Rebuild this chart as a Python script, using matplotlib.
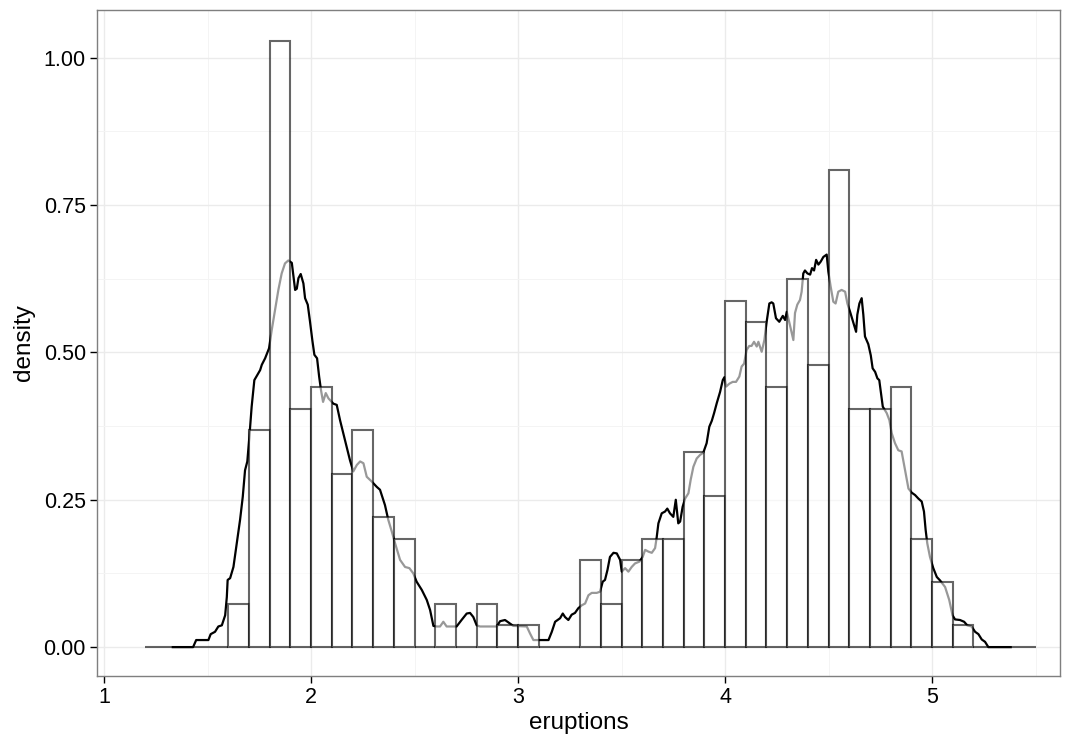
import numpy as np
import matplotlib
matplotlib.use("Agg")
import matplotlib.pyplot as plt
from matplotlib.ticker import FixedLocator

plt.rcParams['font.family'] = ['Liberation Sans', 'DejaVu Sans']

# histogram of eruptions, binwidth 0.1, bins from 1.2 to 5.5 (density scale)
bin_width = 0.1
bin_starts = np.round(np.arange(1.2, 5.45, bin_width), 1)
hist_density = [0, 0, 0, 0, 0.0735, 0.368, 1.029, 0.404, 0.441, 0.294,
                0.368, 0.221, 0.184, 0, 0.0735, 0, 0.0735, 0.0368, 0.0368, 0,
                0, 0.147, 0.0735, 0.147, 0.184, 0.184, 0.331, 0.257, 0.588, 0.551,
                0.441, 0.625, 0.478, 0.809, 0.404, 0.404, 0.441, 0.184, 0.110, 0.0368,
                0, 0, 0]

# kernel density (small bandwidth)
dens_x = [1.332, 1.430, 1.445, 1.504, 1.515, 1.536, 1.552, 1.569, 1.585, 1.593,
          1.597, 1.609, 1.625, 1.641, 1.657, 1.670, 1.681, 1.692, 1.702, 1.713,
          1.726, 1.741, 1.754, 1.762, 1.778, 1.797, 1.810, 1.826, 1.842, 1.858,
          1.874, 1.890, 1.907, 1.915, 1.923, 1.931, 1.939, 1.950, 1.963, 1.971,
          1.984, 1.995, 2.006, 2.016, 2.029, 2.039, 2.048, 2.058, 2.071, 2.084,
          2.108, 2.124, 2.140, 2.164, 2.188, 2.204, 2.221, 2.237, 2.253, 2.269,
          2.293, 2.317, 2.333, 2.357, 2.373, 2.390, 2.406, 2.430, 2.454, 2.475,
          2.494, 2.510, 2.535, 2.559, 2.575, 2.591, 2.607, 2.623, 2.639, 2.655,
          2.703, 2.727, 2.752, 2.768, 2.784, 2.800, 2.816, 2.897, 2.913, 2.937,
          2.961, 2.977, 3.042, 3.058, 3.074, 3.147, 3.163, 3.179, 3.203, 3.216,
          3.227, 3.243, 3.259, 3.275, 3.291, 3.308, 3.324, 3.340, 3.356, 3.380,
          3.396, 3.409, 3.420, 3.432, 3.444, 3.461, 3.477, 3.493, 3.501, 3.517,
          3.533, 3.549, 3.565, 3.586, 3.602, 3.614, 3.630, 3.646, 3.662, 3.670,
          3.678, 3.694, 3.710, 3.721, 3.734, 3.750, 3.762, 3.774, 3.783, 3.795,
          3.807, 3.823, 3.834, 3.847, 3.863, 3.879, 3.895, 3.911, 3.924, 3.936,
          3.947, 3.960, 3.976, 3.989, 3.997, 4.005, 4.021, 4.037, 4.053, 4.069,
          4.080, 4.092, 4.104, 4.117, 4.128, 4.140, 4.153, 4.161, 4.177, 4.190,
          4.201, 4.214, 4.225, 4.233, 4.246, 4.262, 4.279, 4.290, 4.298, 4.311,
          4.322, 4.330, 4.338, 4.349, 4.362, 4.370, 4.378, 4.386, 4.398, 4.411,
          4.420, 4.430, 4.440, 4.451, 4.462, 4.475, 4.491, 4.499, 4.510, 4.523,
          4.534, 4.547, 4.563, 4.580, 4.591, 4.604, 4.620, 4.633, 4.639, 4.649,
          4.660, 4.668, 4.676, 4.692, 4.704, 4.713, 4.725, 4.736, 4.745, 4.752,
          4.762, 4.781, 4.794, 4.805, 4.821, 4.837, 4.853, 4.870, 4.886, 4.902,
          4.918, 4.934, 4.950, 4.961, 4.969, 4.977, 4.990, 5.006, 5.023, 5.039,
          5.063, 5.083, 5.099, 5.111, 5.135, 5.155, 5.170, 5.191, 5.208, 5.224,
          5.240, 5.256, 5.272, 5.380]
dens_y = [0.0, 0.0, 0.012, 0.012, 0.022, 0.026, 0.035, 0.037, 0.054, 0.085,
          0.114, 0.117, 0.136, 0.176, 0.216, 0.255, 0.300, 0.315, 0.357, 0.408,
          0.453, 0.462, 0.470, 0.479, 0.490, 0.507, 0.538, 0.572, 0.606, 0.634,
          0.651, 0.656, 0.652, 0.629, 0.606, 0.608, 0.626, 0.633, 0.617, 0.592,
          0.581, 0.552, 0.521, 0.496, 0.490, 0.459, 0.436, 0.416, 0.431, 0.422,
          0.413, 0.411, 0.385, 0.351, 0.317, 0.298, 0.309, 0.315, 0.312, 0.289,
          0.281, 0.272, 0.267, 0.241, 0.216, 0.196, 0.176, 0.148, 0.136, 0.134,
          0.125, 0.111, 0.097, 0.080, 0.063, 0.036, 0.035, 0.035, 0.043, 0.035,
          0.035, 0.046, 0.057, 0.058, 0.051, 0.037, 0.035, 0.035, 0.044, 0.046,
          0.040, 0.036, 0.035, 0.023, 0.012, 0.012, 0.026, 0.043, 0.049, 0.057,
          0.051, 0.046, 0.055, 0.058, 0.066, 0.071, 0.074, 0.088, 0.092, 0.092,
          0.094, 0.111, 0.114, 0.131, 0.153, 0.160, 0.159, 0.148, 0.128, 0.134,
          0.128, 0.136, 0.142, 0.145, 0.153, 0.165, 0.162, 0.160, 0.168, 0.187,
          0.210, 0.227, 0.230, 0.235, 0.227, 0.221, 0.250, 0.210, 0.213, 0.238,
          0.252, 0.261, 0.284, 0.306, 0.320, 0.326, 0.330, 0.346, 0.374, 0.384,
          0.397, 0.414, 0.433, 0.453, 0.458, 0.442, 0.447, 0.450, 0.450, 0.459,
          0.476, 0.481, 0.504, 0.511, 0.511, 0.518, 0.510, 0.518, 0.501, 0.521,
          0.552, 0.583, 0.585, 0.583, 0.558, 0.552, 0.562, 0.555, 0.569, 0.550,
          0.533, 0.521, 0.567, 0.581, 0.589, 0.603, 0.634, 0.639, 0.634, 0.632,
          0.643, 0.639, 0.657, 0.649, 0.654, 0.662, 0.666, 0.637, 0.612, 0.586,
          0.583, 0.603, 0.606, 0.603, 0.583, 0.569, 0.550, 0.535, 0.564, 0.583,
          0.592, 0.564, 0.527, 0.514, 0.495, 0.473, 0.467, 0.456, 0.453, 0.434,
          0.408, 0.397, 0.385, 0.363, 0.346, 0.334, 0.332, 0.300, 0.269, 0.262,
          0.258, 0.252, 0.247, 0.230, 0.199, 0.176, 0.153, 0.134, 0.119, 0.113,
          0.102, 0.080, 0.054, 0.047, 0.046, 0.043, 0.037, 0.035, 0.026, 0.022,
          0.013, 0.009, 0.0, 0.0]

x_ticks = [1, 2, 3, 4, 5]
y_ticks = [0.0, 0.25, 0.5, 0.75, 1.0]
y_tick_labels = ['0.00', '0.25', '0.50', '0.75', '1.00']

fig = plt.figure(figsize=(10.71, 7.44), dpi=100)
ax = fig.add_axes([0.0906, 0.0914, 0.8991, 0.8952])

# density line underneath, bars on top with see-through white fill
ax.plot(dens_x, dens_y, color='black', lw=1.6, zorder=2, solid_joinstyle='round')
ax.bar(bin_starts, hist_density, width=bin_width, align='edge',
       facecolor=(1, 1, 1, 0.6), edgecolor=(0, 0, 0, 0.6), linewidth=1.5, zorder=3)

ax.set_xlim(0.966, 5.618)
ax.set_ylim(-0.049, 1.081)

ax.set_xticks(x_ticks)
ax.set_yticks(y_ticks)
ax.set_yticklabels(y_tick_labels)
ax.xaxis.set_minor_locator(FixedLocator([1.5, 2.5, 3.5, 4.5, 5.5]))
ax.yaxis.set_minor_locator(FixedLocator([0.125, 0.375, 0.625, 0.875]))

ax.grid(True, which='major', color='#EBEBEB', lw=1.0, zorder=0)
ax.grid(True, which='minor', color='#F4F4F4', lw=0.7, zorder=0)
ax.set_axisbelow(True)

for s in ax.spines.values():
    s.set_color('#7F7F7F')
    s.set_linewidth(1.0)

ax.tick_params(which='major', length=5, width=1.0, color='black',
               labelsize=15.5, labelcolor='black', pad=3)
ax.tick_params(which='minor', length=0)

ax.set_xlabel('eruptions', fontsize=17.5, labelpad=3)
ax.set_ylabel('density', fontsize=17.5, labelpad=6)

fig.savefig('out.png', dpi=100)
